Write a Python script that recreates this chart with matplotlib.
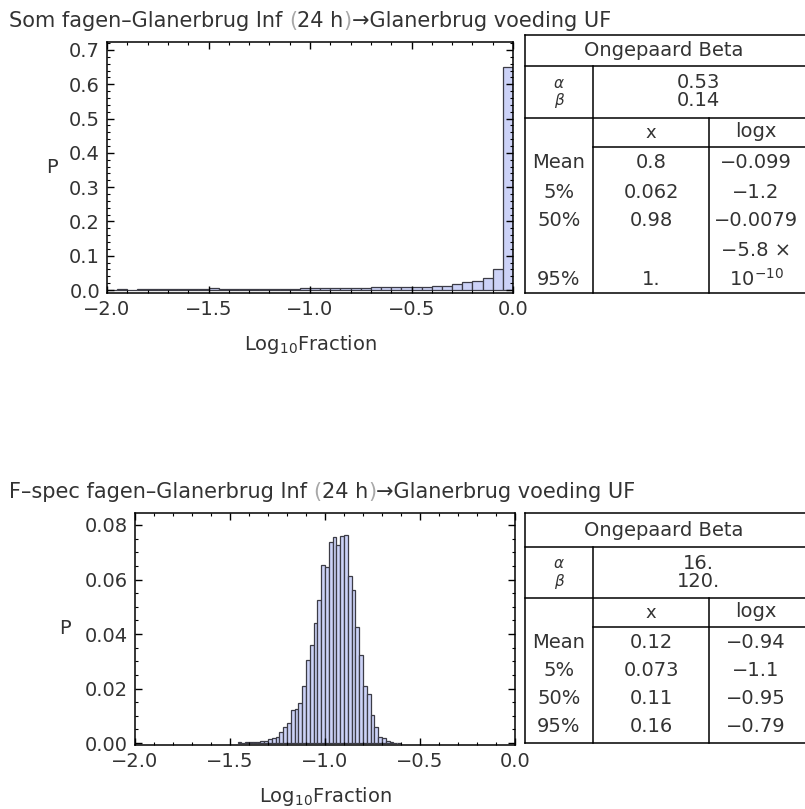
import numpy as np
import matplotlib
matplotlib.use('Agg')
import matplotlib.pyplot as plt
from matplotlib.lines import Line2D
from matplotlib.ticker import MultipleLocator, FuncFormatter

# histogram 1: Som fagen, bins of 0.05 from -2.0
som_start = -2.0
som_width = 0.05
som_p = [0.001, 0.002, 0.001, 0.002, 0.002, 0.002, 0.002, 0.002, 0.002, 0.002,
         0.005, 0.003, 0.004, 0.004, 0.003, 0.004, 0.004, 0.004, 0.004, 0.005,
         0.005, 0.005, 0.005, 0.006, 0.006, 0.006,
         0.008, 0.008, 0.008, 0.008, 0.008, 0.009, 0.012, 0.012, 0.017, 0.022,
         0.027, 0.035, 0.060, 0.650]

# histogram 2: F-spec fagen, bins of 0.02 from -1.46
fspec_start = -1.46
fspec_width = 0.02
fspec_p = [0.0004, 0.0, 0.0003, 0.0003, 0.0004, 0.0004, 0.0006, 0.0008, 0.0015, 0.0020,
           0.0021, 0.0040, 0.0058, 0.0075, 0.0120, 0.0125, 0.0148, 0.0209, 0.0305, 0.0360,
           0.0439, 0.0525, 0.0653, 0.0645, 0.0739, 0.0757, 0.0727, 0.0760, 0.0763, 0.0613,
           0.0561, 0.0427, 0.0323, 0.0210, 0.0179, 0.0103, 0.0060, 0.0024, 0.0018, 0.0006,
           0.0003, 0.0002, 0.0002]

# titels in stukjes (haakjes lichter grijs, zoals in het origineel)
titel_som = ['Som fagen\u2013Glanerbrug Inf ', '(', '24 h', ')', '\u2192Glanerbrug voeding UF']
titel_fspec = ['F\u2013spec fagen\u2013Glanerbrug Inf ', '(', '24 h', ')', '\u2192Glanerbrug voeding UF']

# tabellen
rijen = ['Mean', '5%', '50%', '95%']
som_ab = ['0.53', '0.14']
som_x = ['0.8', '0.062', '0.98', '1.']
som_logx = ['\u22120.099', '\u22121.2', '\u22120.0079', '10$^{\\mathregular{-10}}$']
som_logx_extra = '\u22125.8 \u00d7'
fspec_ab = ['16.', '120.']
fspec_x = ['0.12', '0.073', '0.11', '0.16']
fspec_logx = ['\u22120.94', '\u22121.1', '\u22120.95', '\u22120.79']

W, H = 805, 809
tekst = '#333333'
licht = '#a8a8a8'
fs = 14

fig = plt.figure(figsize=(W / 100, H / 100), dpi=100)


def fx(x):
    return x / W


def fy(y):
    return 1 - y / H


def minus(fmt):
    return FuncFormatter(lambda v, pos: (fmt % v).replace('-', '\u2212'))


def histo(box, start, width, p, ylim, ymaj, ymin, yfmt, plab, xlab_y):
    l, t, r, b = box
    ax = fig.add_axes([fx(l), fy(b), (r - l) / W, (b - t) / H])
    left = start + width * np.arange(len(p))
    ax.bar(left, p, width=width, align='edge', color='#ccd2f7',
           edgecolor='#3c3c46', linewidth=0.9)
    ax.set_xlim(-2.0, 0.0)
    ax.set_ylim(*ylim)
    ax.xaxis.set_major_locator(MultipleLocator(0.5))
    ax.xaxis.set_minor_locator(MultipleLocator(0.1))
    ax.yaxis.set_major_locator(MultipleLocator(ymaj))
    ax.yaxis.set_minor_locator(MultipleLocator(ymin))
    ax.xaxis.set_major_formatter(minus('%.1f'))
    ax.yaxis.set_major_formatter(minus(yfmt))
    ax.tick_params(which='both', direction='in', top=True, right=True,
                   colors='black', labelcolor=tekst, labelsize=fs)
    ax.tick_params(which='major', length=5, width=1.0, pad=5)
    ax.tick_params(which='minor', length=2.5, width=0.8)
    for s in ax.spines.values():
        s.set_linewidth(1.1)
    ax.set_ylabel('P', rotation=0, fontsize=fs, color=tekst, ha='center', va='center')
    ax.yaxis.set_label_coords(plab, 0.5)
    ax.set_xlabel('Log$_{\\mathregular{10}}$Fraction', fontsize=fs, color=tekst, va='center')
    ax.xaxis.set_label_coords(0.5, xlab_y)
    return ax


histo((107, 42, 513, 293), som_start, som_width, som_p, (-0.0087, 0.7233),
      0.1, 0.02, '%.1f', -0.135, -0.207)
histo((135, 513, 515, 745), fspec_start, fspec_width, fspec_p, (-0.0007, 0.0844),
      0.02, 0.005, '%.2f', -0.184, -0.224)


def titel(stukken, y):
    kleuren = [tekst, licht, tekst, licht, tekst]
    vorige = fig.text(fx(9), fy(y), stukken[0], fontsize=15, color=kleuren[0],
                      ha='left', va='baseline')
    for s, c in zip(stukken[1:], kleuren[1:]):
        vorige = fig.add_artist(plt.Annotation(s, xy=(1, 0), xycoords=vorige,
                                               fontsize=15, color=c,
                                               ha='left', va='bottom'))


titel(titel_som, 27)
titel(titel_fspec, 498)


def lijn(x0, y0, x1, y1):
    fig.add_artist(Line2D([fx(x0), fx(x1)], [fy(y0), fy(y1)], transform=fig.transFigure,
                          color='black', linewidth=1.1))


def txt(x, y, s, **kw):
    kw.setdefault('fontsize', fs)
    kw.setdefault('color', tekst)
    fig.text(fx(x), fy(y), s, ha='center', va='center', **kw)


def tabel(top, kop, ab, xlijn, bottom, rij_y, ab_vals, xs, logxs, extra=None):
    L, C1, C2, R = 525, 593, 709, 806
    lijn(L, top, R, top)
    lijn(L, kop, R, kop)
    lijn(L, ab, R, ab)
    lijn(C1, xlijn, R, xlijn)
    lijn(L, bottom, R, bottom)
    lijn(L, top, L, bottom)
    lijn(C1, kop, C1, bottom)
    lijn(C2, ab, C2, bottom)
    txt((L + 803) / 2, (top + kop) / 2, 'Ongepaard Beta')
    amid = (kop + ab) / 2
    txt((L + C1) / 2, amid - 9, '\u03b1', fontsize=11, style='italic')
    txt((L + C1) / 2, amid + 9, '\u03b2', fontsize=11, style='italic')
    txt((C1 + 803) / 2, amid - 9, ab_vals[0])
    txt((C1 + 803) / 2, amid + 9, ab_vals[1])
    txt((C1 + C2) / 2, (ab + xlijn) / 2, 'x', fontsize=13)
    txt((C2 + 803) / 2, (ab + xlijn) / 2 - 1, 'logx')
    for naam, x, lx, y in zip(rijen, xs, logxs, rij_y):
        txt((L + C1) / 2, y, naam)
        txt((C1 + C2) / 2, y, x)
        txt((C2 + 803) / 2, y, lx)
    if extra is not None:
        txt((C2 + 803) / 2, extra[1], extra[0])


tabel(35, 66, 118, 147, 293, [163, 192, 221, 279], som_ab, som_x, som_logx,
      extra=(som_logx_extra, 250))
tabel(513, 547, 598, 627, 743, [643, 671, 699, 727], fspec_ab, fspec_x, fspec_logx)

fig.savefig('out.png', dpi=100)
